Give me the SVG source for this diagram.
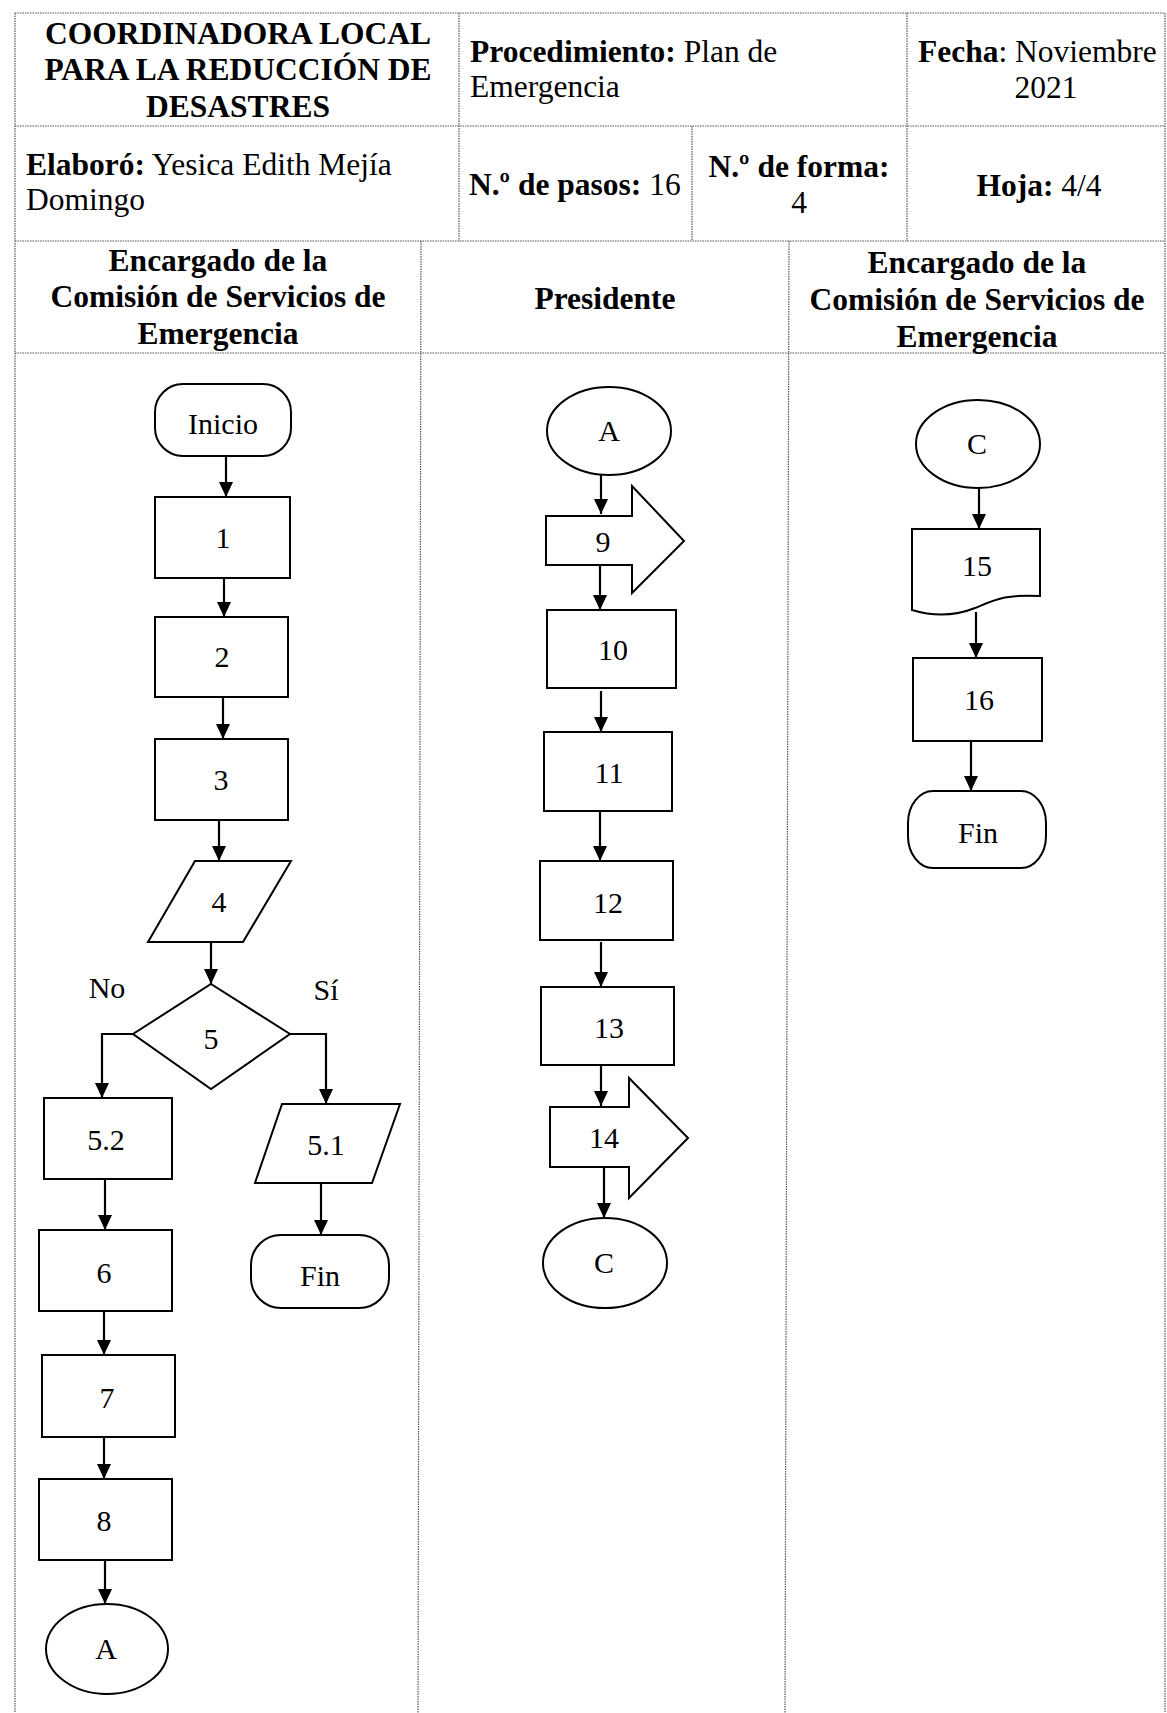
<svg xmlns="http://www.w3.org/2000/svg" width="1167" height="1713" viewBox="0 0 1167 1713">
<style>
text{font-family:"Liberation Serif","Times New Roman",serif;fill:#000}
.h{font-size:31.5px}
.b{font-weight:bold}
.c{text-anchor:middle}
.n{font-size:30px;text-anchor:middle}
.grid{stroke:#555;stroke-width:1.2;stroke-dasharray:1.5 1;fill:none}
.s{fill:#fff;stroke:#000;stroke-width:2}
.e{stroke:#000;stroke-width:2.2;fill:none}
</style>
<defs>
<marker id="ah" viewBox="0 0 15 14" refX="15" refY="7" markerWidth="15" markerHeight="14" orient="auto" markerUnits="userSpaceOnUse">
<path d="M0,0 L15,7 L0,14 Z" fill="#000"/>
</marker>
</defs>
<rect width="1167" height="1713" fill="#fff"/>
<g id="table" class="grid">
<line x1="15" y1="13" x2="1165" y2="13"/>
<line x1="15" y1="126" x2="1165" y2="126"/>
<line x1="15" y1="241" x2="1165" y2="241"/>
<line x1="15" y1="353" x2="1165" y2="353"/>
<line x1="15" y1="13" x2="15" y2="1713"/>
<line x1="1165" y1="13" x2="1165" y2="1713"/>
<line x1="459" y1="13" x2="459" y2="241"/>
<line x1="907" y1="13" x2="907" y2="241"/>
<line x1="692" y1="126" x2="692" y2="241"/>
<line x1="421" y1="241" x2="418" y2="1713"/>
<line x1="789" y1="241" x2="785" y2="1713"/>
</g>
<g id="header">
<text class="h b c" x="238" y="44">COORDINADORA LOCAL</text>
<text class="h b c" x="238" y="80">PARA LA REDUCCIÓN DE</text>
<text class="h b c" x="238" y="117">DESASTRES</text>
<text class="h" x="470" y="62"><tspan class="b">Procedimiento:</tspan> Plan de</text>
<text class="h" x="470" y="97">Emergencia</text>
<text class="h" x="918" y="62"><tspan class="b">Fecha</tspan>: Noviembre</text>
<text class="h c" x="1046" y="98">2021</text>
<text class="h" x="26" y="175"><tspan class="b">Elaboró:</tspan> Yesica Edith Mejía</text>
<text class="h" x="26" y="210">Domingo</text>
<text class="h" x="469" y="195"><tspan class="b">N.º de pasos:</tspan> 16</text>
<text class="h b c" x="799" y="177">N.º de forma:</text>
<text class="h c" x="799" y="213">4</text>
<text class="h c" x="1039" y="196"><tspan class="b">Hoja:</tspan> 4/4</text>
<text class="h b c" x="218" y="271">Encargado de la</text>
<text class="h b c" x="218" y="307">Comisión de Servicios de</text>
<text class="h b c" x="218" y="344">Emergencia</text>
<text class="h b c" x="605" y="309">Presidente</text>
<text class="h b c" x="977" y="273">Encargado de la</text>
<text class="h b c" x="977" y="310">Comisión de Servicios de</text>
<text class="h b c" x="977" y="347">Emergencia</text>
</g>
<g id="connectors" class="e">
<line x1="226" y1="456" x2="226" y2="497" marker-end="url(#ah)"/>
<line x1="224" y1="578" x2="224" y2="617" marker-end="url(#ah)"/>
<line x1="223" y1="697" x2="223" y2="739" marker-end="url(#ah)"/>
<line x1="219" y1="820" x2="219" y2="861" marker-end="url(#ah)"/>
<line x1="211" y1="942" x2="211" y2="984" marker-end="url(#ah)"/>
<polyline points="133,1034 102,1034 102,1098" marker-end="url(#ah)"/>
<polyline points="290,1034 326,1034 326,1104" marker-end="url(#ah)"/>
<line x1="321" y1="1183" x2="321" y2="1235" marker-end="url(#ah)"/>
<line x1="105" y1="1179" x2="105" y2="1230" marker-end="url(#ah)"/>
<line x1="104" y1="1311" x2="104" y2="1355" marker-end="url(#ah)"/>
<line x1="104" y1="1437" x2="104" y2="1479" marker-end="url(#ah)"/>
<line x1="105" y1="1560" x2="105" y2="1604" marker-end="url(#ah)"/>
<line x1="601" y1="475" x2="601" y2="514" marker-end="url(#ah)"/>
<line x1="600" y1="565" x2="600" y2="610" marker-end="url(#ah)"/>
<line x1="601" y1="691" x2="601" y2="732" marker-end="url(#ah)"/>
<line x1="600" y1="811" x2="600" y2="861" marker-end="url(#ah)"/>
<line x1="601" y1="942" x2="601" y2="987" marker-end="url(#ah)"/>
<line x1="601" y1="1065" x2="601" y2="1106" marker-end="url(#ah)"/>
<line x1="604" y1="1167" x2="604" y2="1218" marker-end="url(#ah)"/>
<line x1="979" y1="488" x2="979" y2="529" marker-end="url(#ah)"/>
<line x1="976" y1="612" x2="976" y2="658" marker-end="url(#ah)"/>
<line x1="971" y1="741" x2="971" y2="791" marker-end="url(#ah)"/>
</g>
<g id="n-inicio"><rect class="s" x="155" y="384" width="136" height="72" rx="28"/><text class="n" x="223" y="434">Inicio</text></g>
<g id="n-1"><rect class="s" x="155" y="497" width="135" height="81"/><text class="n" x="223" y="548">1</text></g>
<g id="n-2"><rect class="s" x="155" y="617" width="133" height="80"/><text class="n" x="222" y="667">2</text></g>
<g id="n-3"><rect class="s" x="155" y="739" width="133" height="81"/><text class="n" x="221" y="790">3</text></g>
<g id="n-4"><polygon class="s" points="195,861 291,861 243,942 148,942"/><text class="n" x="219" y="912">4</text></g>
<g id="n-5"><polygon class="s" points="211,984 290,1034 211,1089 133,1034"/><text class="n" x="211" y="1049">5</text></g>
<g id="l-no"><text class="n" x="107" y="998">No</text></g>
<g id="l-si"><text class="n" x="326" y="1000">Sí</text></g>
<g id="n-5-2"><rect class="s" x="44" y="1098" width="128" height="81"/><text class="n" x="106" y="1150">5.2</text></g>
<g id="n-5-1"><polygon class="s" points="282,1104 400,1104 372,1183 255,1183"/><text class="n" x="326" y="1155">5.1</text></g>
<g id="n-fin1"><rect class="s" x="251" y="1235" width="138" height="73" rx="30"/><text class="n" x="320" y="1286">Fin</text></g>
<g id="n-6"><rect class="s" x="39" y="1230" width="133" height="81"/><text class="n" x="104" y="1283">6</text></g>
<g id="n-7"><rect class="s" x="42" y="1355" width="133" height="82"/><text class="n" x="107" y="1408">7</text></g>
<g id="n-8"><rect class="s" x="39" y="1479" width="133" height="81"/><text class="n" x="104" y="1531">8</text></g>
<g id="n-a1"><ellipse class="s" cx="107" cy="1649" rx="61" ry="45"/><text class="n" x="106" y="1659">A</text></g>
<g id="n-a2"><ellipse class="s" cx="609" cy="431" rx="62" ry="44"/><text class="n" x="609" y="441">A</text></g>
<g id="n-9"><path class="s" d="M546,516 L632,516 L632,486 L684,541 L632,593 L632,565 L546,565 Z"/><text class="n" x="603" y="552">9</text></g>
<g id="n-10"><rect class="s" x="547" y="610" width="129" height="78"/><text class="n" x="613" y="660">10</text></g>
<g id="n-11"><rect class="s" x="544" y="732" width="128" height="79"/><text class="n" x="609" y="783">11</text></g>
<g id="n-12"><rect class="s" x="540" y="861" width="133" height="79"/><text class="n" x="608" y="913">12</text></g>
<g id="n-13"><rect class="s" x="541" y="987" width="133" height="78"/><text class="n" x="609" y="1038">13</text></g>
<g id="n-14"><path class="s" d="M550,1107 L629,1107 L629,1078 L688,1138 L629,1198 L629,1167 L550,1167 Z"/><text class="n" x="604" y="1148">14</text></g>
<g id="n-c2"><ellipse class="s" cx="605" cy="1263" rx="62" ry="45"/><text class="n" x="604" y="1273">C</text></g>
<g id="n-c3"><ellipse class="s" cx="978" cy="444" rx="62" ry="44"/><text class="n" x="977" y="454">C</text></g>
<g id="n-15"><path class="s" d="M912,529 H1040 V596 C1005,594 995,600 975,608 C955,616 935,617 912,610 Z"/><text class="n" x="977" y="576">15</text></g>
<g id="n-16"><rect class="s" x="913" y="658" width="129" height="83"/><text class="n" x="979" y="710">16</text></g>
<g id="n-fin3"><rect class="s" x="908" y="791" width="138" height="77" rx="25" ry="32"/><text class="n" x="978" y="843">Fin</text></g>
</svg>
